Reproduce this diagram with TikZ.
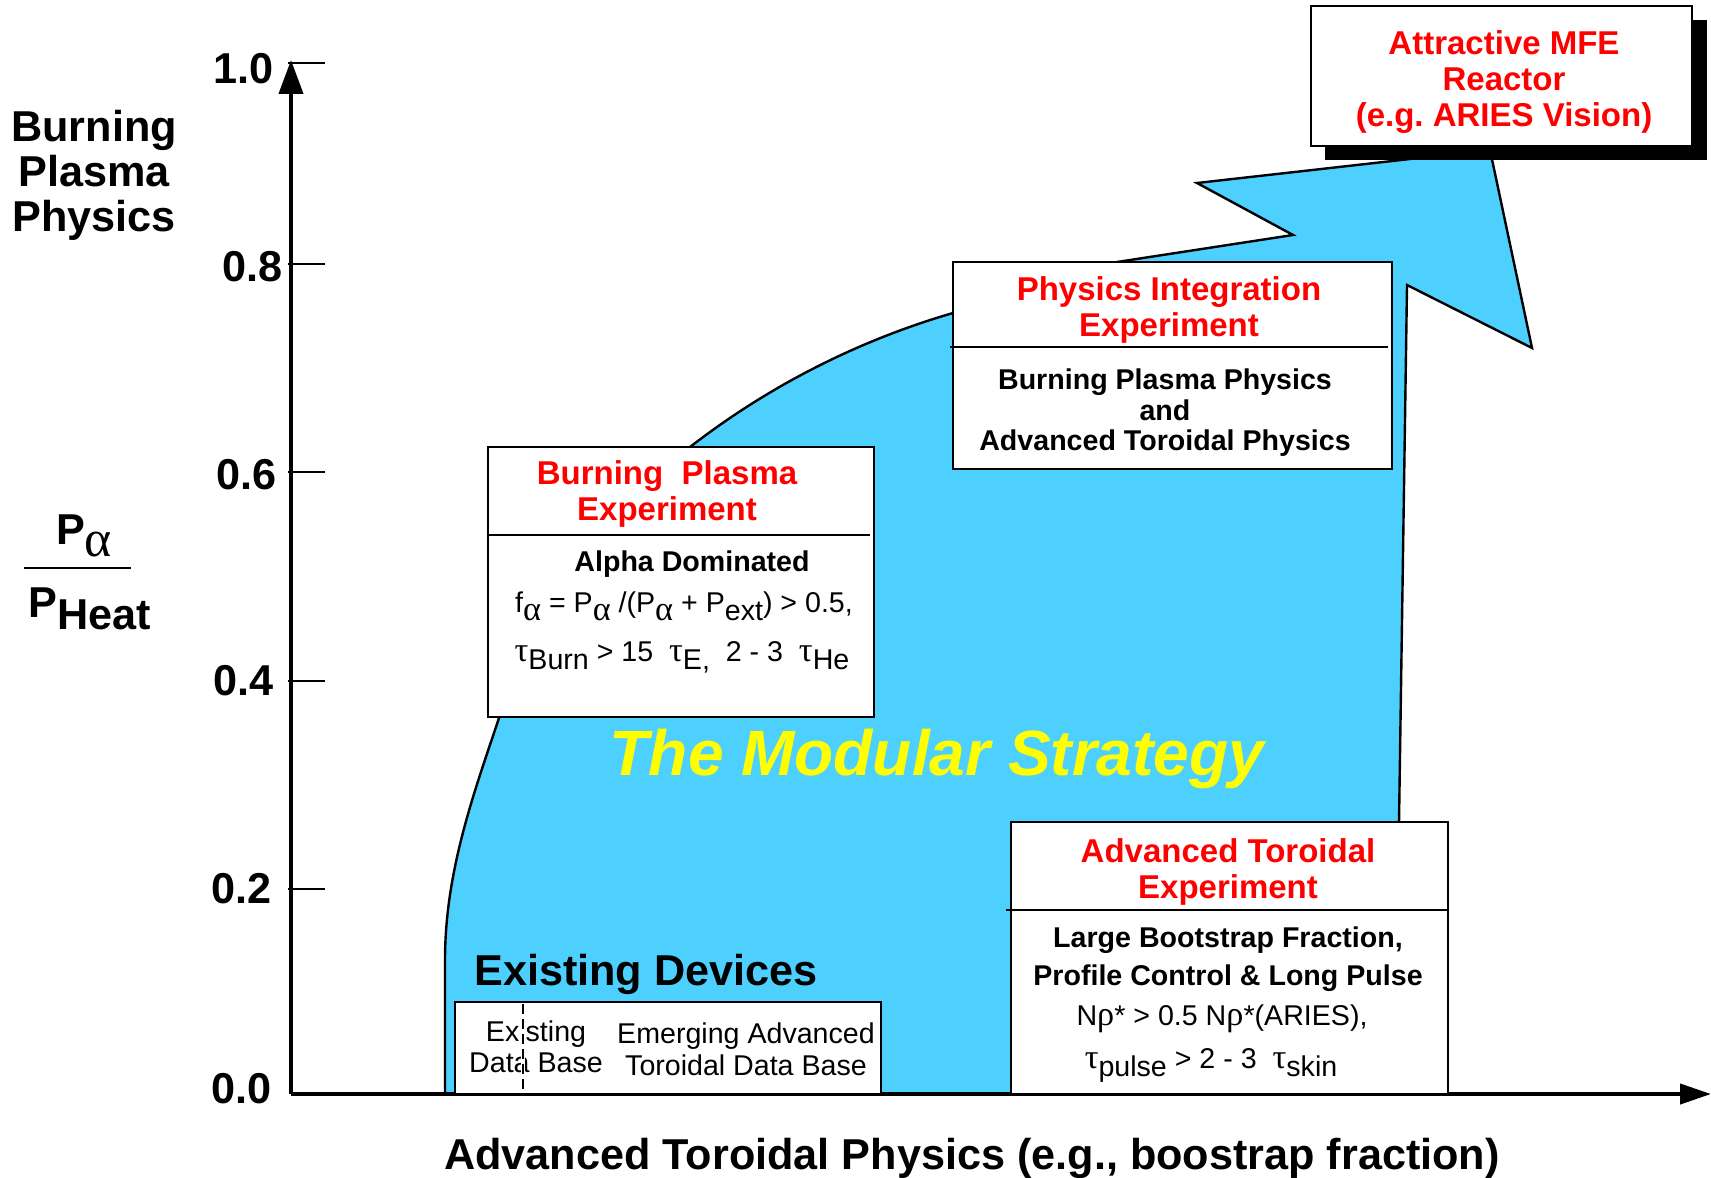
\documentclass[tikz,border=0pt]{standalone}
\usepackage{fontspec}
\setmainfont{Liberation Sans}
\newfontfamily\grk[Scale=1.2]{Liberation Serif}
\usetikzlibrary{arrows.meta}
\frenchspacing

\definecolor{stratblue}{RGB}{78,208,255}
\definecolor{stratyellow}{RGB}{255,255,0}
\newcommand{\lo}[1]{\raisebox{-0.28em}{#1}}
\newcommand{\gsym}[1]{{\grk\mdseries #1}}

\begin{document}
\begin{tikzpicture}[
  x=0.5pt, y=-0.5pt,
  axis/.style={line width=2pt},
  tickline/.style={line width=1pt},
  biglbl/.style={font=\fontsize{21.6}{22.5}\selectfont\bfseries, align=center},
  ticklbl/.style={font=\fontsize{21.6}{22.5}\selectfont\bfseries, anchor=east},
  panel/.style={draw, fill=white, line width=1pt},
  redtitle/.style={font=\fontsize{16.5}{18}\selectfont\bfseries, text=red, align=center},
  bodybf/.style={font=\fontsize{14.3}{15.25}\selectfont\bfseries, align=center},
  bodyrm/.style={font=\fontsize{14.3}{16}\selectfont, align=center}
]
\useasboundingbox (0,0) rectangle (1711,1177);

% Strategy arrow
\draw[fill=stratblue, line width=1.2pt, line join=miter]
  (445,1094) -- (445,960) .. controls (445,870) and (475,790) .. (500,715)
  -- (690,447) .. controls (770,385) and (860,340) .. (953,313)
  -- (1117,262) -- (1293,235) -- (1197,183) -- (1490,150)
  -- (1532,348) -- (1407,285) -- (1399,822) -- (1399,1094) -- cycle;

% Axes
\draw[axis, -{Triangle[length=17pt, width=12pt]}] (291,1094) -- (291,60);
\draw[axis, -{Triangle[length=15.5pt, width=10pt]}] (291,1094) -- (1711,1094);
\foreach \yy in {63, 264, 472, 681, 889} {
  \draw[tickline] (288,\yy) -- (325,\yy);
}
\foreach \v/\yy/\xx [count=\i] in {1.0/69/281, 0.8/267/290, 0.6/475/284, 0.4/681/281, 0.2/889/279, 0.0/1089/279} {
  \node[ticklbl] (tk\i) at (\xx,\yy) {\v};
}

% Axis labels
\node[biglbl] (bpp) at (94,175) {Burning\\Plasma\\Physics};
\node[biglbl] (num) at (84,536) {P\lo{\gsym{α}}};
\draw[line width=1pt] (24,568) -- (131,568);
\node[biglbl] (den) at (90,609) {P\lo{Heat}};
\node[biglbl] (xlbl) at (972,1158) {Advanced Toroidal Physics (e.g., boostrap fraction)};

% Burning plasma experiment
\draw[panel] (488,447) rectangle (874,717);
\draw[line width=1pt] (488,535) -- (870,535);
\node[redtitle] (bpx) at (667,494) {Burning\ \ Plasma\\Experiment};
\node[bodybf] (alpha) at (692,564) {Alpha Dominated};
\node[bodyrm] (falpha) at (684,606) {f\lo{\gsym{α}} = P\lo{\gsym{α}} /(P\lo{\gsym{α}} + P\lo{ext}) > 0.5,};
\node[bodyrm] (tburn) at (682,657) {\gsym{τ}\lo{Burn} > 15\ \ \gsym{τ}\lo{E,}\ \ 2 - 3\ \ \gsym{τ}\lo{He}};

% Physics integration experiment
\draw[panel] (953,262) rectangle (1392,469);
\draw[line width=1pt] (950,347) -- (1388,347);
\node[redtitle] (pix) at (1169,310) {Physics Integration\\Experiment};
\node[bodybf] (pibody) at (1165,413) {Burning Plasma Physics\\and\\Advanced Toroidal Physics};

% Advanced toroidal experiment
\draw[panel] (1011,822) rectangle (1448,1094);
\draw[line width=1pt] (1006,910) -- (1448,910);
\node[redtitle] (atx) at (1228,872) {Advanced Toroidal\\Experiment};
\node[bodybf, font=\fontsize{14.3}{18.75}\selectfont\bfseries] (atbody) at (1228,959) {Large Bootstrap Fraction,\\Profile Control \& Long Pulse};
\node[bodyrm] (nrho) at (1222,1019) {N\gsym{ρ}* > 0.5 N\gsym{ρ}*(ARIES),};
\node[bodyrm] (tpulse) at (1211,1065) {\gsym{τ}\lo{pulse} > 2 - 3\ \ \gsym{τ}\lo{skin}};

% Existing devices
\node[biglbl] (exdev) at (646,974) {Existing Devices};
\draw[panel] (455,1002) rectangle (881,1094);
\node[bodyrm, font=\fontsize{14.3}{15.5}\selectfont] (exdb) at (536,1047) {Existing\\Data Base};
\node[bodyrm] (emdb) at (746,1049) {Emerging Advanced\\Toroidal Data Base};
\draw[white, line width=1.6pt] (523,1004) -- (523,1092);
\draw[line width=0.8pt, dash pattern=on 5pt off 2.5pt] (523,1004) -- (523,1092);

% Strategy label
\node[font=\fontsize{32}{34}\selectfont\bfseries\itshape, text=stratyellow] (strat) at (937,759) {The Modular Strategy};

% Reactor goal
\fill (1325,20) rectangle (1707,160);
\draw[panel] (1311,6) rectangle (1692,146);
\node[redtitle] (mfe) at (1504,82) {Attractive MFE\\Reactor\\(e.g. ARIES Vision)};
\end{tikzpicture}
\end{document}
